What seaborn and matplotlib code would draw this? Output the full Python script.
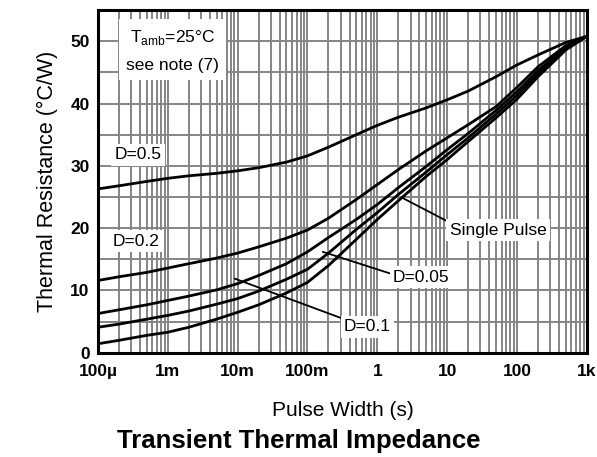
import matplotlib

matplotlib.use("Agg")

import matplotlib.pyplot as plt
import numpy as np
import pandas as pd
import seaborn as sns
from matplotlib.ticker import FixedLocator, LogLocator, NullFormatter, MultipleLocator

# pulse width (s) sample points (1-2-5 steps)
pulse_width = [
    1e-4, 2e-4, 5e-4, 1e-3, 2e-3, 5e-3, 1e-2, 2e-2, 5e-2, 0.1, 0.2,
    0.5, 1, 2, 5, 10, 20, 50, 100, 200, 500, 1000,
]

# thermal resistance (degC/W) per duty cycle
r_d05 = [26.3, 26.8, 27.5, 28.0, 28.4, 28.8, 29.2, 29.7, 30.6, 31.6, 33.0,
         35.0, 36.5, 37.8, 39.3, 40.6, 42.0, 44.3, 46.2, 47.8, 49.8, 50.8]
r_d02 = [11.6, 12.2, 12.9, 13.6, 14.3, 15.2, 16.0, 17.0, 18.4, 19.7, 21.6,
         24.6, 27.0, 29.4, 32.4, 34.5, 36.6, 39.5, 42.6, 45.9, 49.3, 50.8]
r_d01 = [6.3, 6.9, 7.7, 8.4, 9.1, 10.1, 11.1, 12.4, 14.3, 16.2, 18.5,
         21.4, 23.8, 26.5, 29.9, 32.6, 35.2, 38.9, 41.9, 45.3, 49.0, 50.8]
r_d005 = [4.1, 4.6, 5.4, 6.0, 6.7, 7.8, 8.7, 9.9, 11.8, 13.4, 16.0,
          19.8, 22.5, 25.4, 29.0, 31.8, 34.5, 38.3, 41.3, 44.8, 48.8, 50.8]
r_single = [1.45, 2.0, 2.8, 3.3, 4.1, 5.4, 6.5, 7.7, 9.6, 11.3, 14.0,
            18.2, 21.4, 24.4, 28.3, 31.0, 33.9, 37.7, 40.7, 44.3, 48.6, 50.8]

series = {
    "D=0.5": r_d05,
    "D=0.2": r_d02,
    "D=0.1": r_d01,
    "D=0.05": r_d005,
    "Single Pulse": r_single,
}

x_ticks = [1e-4, 1e-3, 1e-2, 1e-1, 1, 10, 100, 1000]
x_tick_labels = ["100\u00b5", "1m", "10m", "100m", "1", "10", "100", "1k"]
y_ticks = [0, 10, 20, 30, 40, 50]

sns.set_theme(style="whitegrid")
plt.rcParams["font.family"] = ["Liberation Sans", "DejaVu Sans"]
plt.rcParams["mathtext.fontset"] = "custom"
plt.rcParams["mathtext.rm"] = "Liberation Sans"

frames = [
    pd.DataFrame({"pulse": pulse_width, "rth": vals, "curve": name})
    for name, vals in series.items()
]
data = pd.concat(frames, ignore_index=True)

fig = plt.figure(figsize=(5.97, 4.57), dpi=100)
ax = fig.add_axes([0.164, 0.228, 0.819, 0.75])

sns.lineplot(
    data=data,
    x="pulse",
    y="rth",
    hue="curve",
    palette=["black"] * len(series),
    estimator=None,
    sort=False,
    legend=False,
    linewidth=2.0,
    ax=ax,
    zorder=3,
)

ax.set_xscale("log")
ax.set_xlim(1e-4, 1e3)
ax.set_ylim(0, 55)

ax.xaxis.set_major_locator(FixedLocator(x_ticks))
ax.set_xticklabels(x_tick_labels)
ax.xaxis.set_minor_locator(LogLocator(base=10, subs=np.arange(2, 10), numticks=50))
ax.xaxis.set_minor_formatter(NullFormatter())
ax.yaxis.set_major_locator(FixedLocator(y_ticks))
ax.yaxis.set_minor_locator(MultipleLocator(5))

ax.set_facecolor("white")
ax.grid(True, which="both", color="#858585", linewidth=1.4)
ax.set_axisbelow(True)
for side in ax.spines.values():
    side.set_color("black")
    side.set_linewidth(2.2)
    side.set_zorder(5)

ax.tick_params(axis="both", which="both", length=0)
ax.tick_params(axis="x", pad=8)
ax.tick_params(axis="y", pad=6)
for lbl in ax.get_xticklabels() + ax.get_yticklabels():
    lbl.set_fontsize(12.5)
    lbl.set_fontweight("bold")
    lbl.set_color("black")

ax.set_xlabel("Pulse Width (s)", fontsize=15, color="black", labelpad=16)
ax.set_ylabel("Thermal Resistance (\u00b0C/W)", fontsize=15.5, color="black", labelpad=9)
fig.text(0.5, 0.036, "Transient Thermal Impedance", ha="center", va="center",
         fontsize=18.5, fontweight="bold", color="black")

box = dict(facecolor="white", edgecolor="none", pad=2.5)
label_kw = dict(fontsize=12.5, color="black", ha="center", va="center", bbox=box, zorder=4)

ax.text(10 ** -3.43, 31.8, "D=0.5", **label_kw)
ax.text(10 ** -3.46, 17.9, "D=0.2", **label_kw)
ax.text(10 ** -2.93, 48.5, "T$_{\\mathrm{amb}}$=25\u00b0C\nsee note (7)",
        fontsize=12.5, color="black", ha="center", va="center", linespacing=1.9,
        bbox=dict(facecolor="white", edgecolor="none", pad=5), zorder=4)

leader = dict(arrowstyle="-", color="black", linewidth=1.3, shrinkA=0, shrinkB=0)
ax.annotate("D=0.1", xy=(10 ** -2.04, 11.9), xytext=(10 ** -0.14, 4.2),
            arrowprops=dict(leader, relpos=(0, 1)), **label_kw)
ax.annotate("D=0.05", xy=(10 ** -0.78, 16.2), xytext=(10 ** 0.63, 12.1),
            arrowprops=dict(leader, relpos=(0, 0.7)), **label_kw)
ax.annotate("Single Pulse", xy=(10 ** 0.37, 24.8), xytext=(10 ** 1.73, 19.7),
            arrowprops=dict(leader, relpos=(0, 1)), **label_kw)

fig.savefig("out.png", dpi=100)
